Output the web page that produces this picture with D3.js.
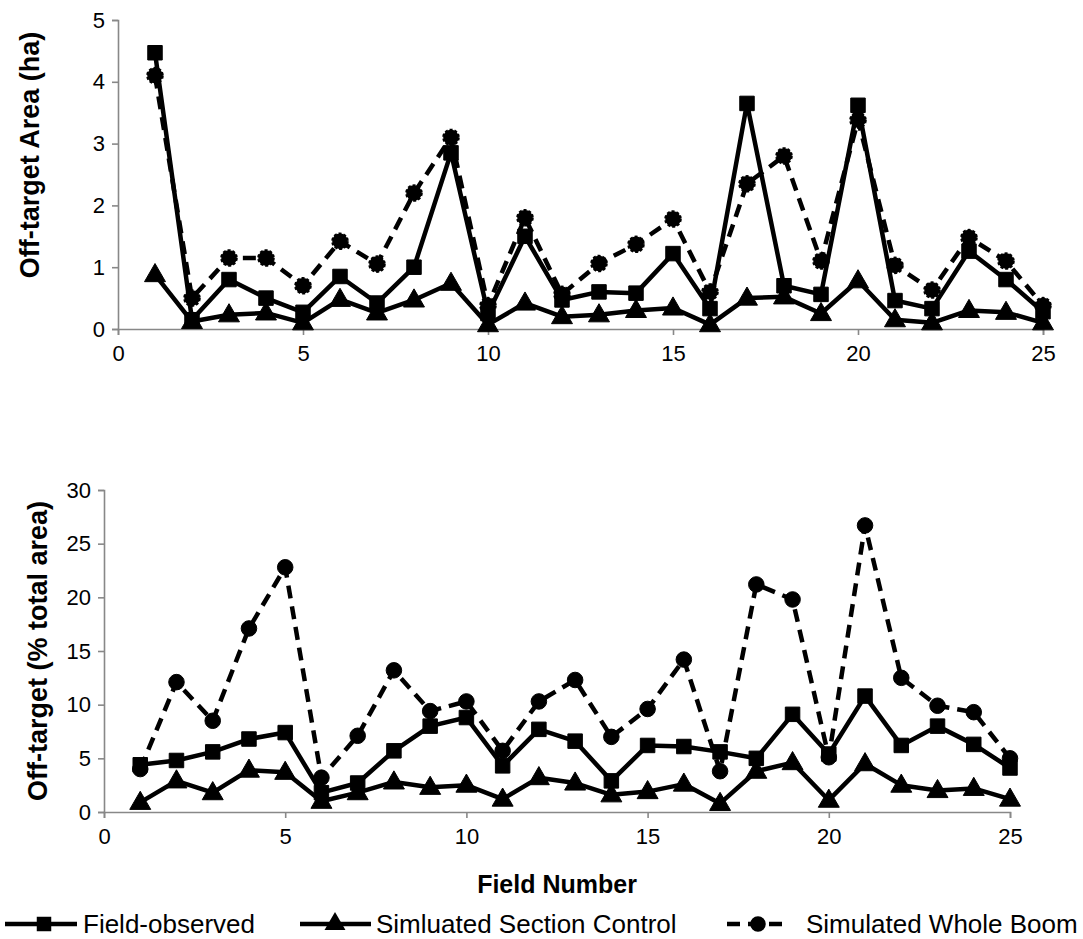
<!DOCTYPE html>
<html>
<head>
<meta charset="utf-8">
<script src="https://cdn.jsdelivr.net/npm/d3@7"></script>
<style>
  html, body { margin: 0; padding: 0; background: #fff; }
  svg { display: block; font-family: "Liberation Sans", Arial, sans-serif; }
</style>
</head>
<body>
<svg id="chart" width="1083" height="939"></svg>
<script>
// ---- Data ----
const fields = d3.range(1, 26);

// Top panel: off-target area (ha)
const areaObserved = [4.47, 0.15, 0.8, 0.5, 0.27, 0.85, 0.42, 1.0, 2.85, 0.25, 1.5, 0.47, 0.6, 0.58, 1.22, 0.33, 3.65, 0.7, 0.56, 3.62, 0.46, 0.33, 1.26, 0.8, 0.28];
const areaSection  = [0.88, 0.12, 0.23, 0.26, 0.1, 0.48, 0.26, 0.47, 0.74, 0.07, 0.42, 0.2, 0.23, 0.3, 0.34, 0.07, 0.5, 0.52, 0.25, 0.78, 0.15, 0.1, 0.3, 0.27, 0.1];
const areaWhole    = [4.1, 0.5, 1.15, 1.15, 0.7, 1.42, 1.05, 2.2, 3.1, 0.38, 1.8, 0.56, 1.06, 1.37, 1.78, 0.6, 2.35, 2.8, 1.1, 3.38, 1.03, 0.63, 1.48, 1.1, 0.38];

// Bottom panel: off-target (% total area)
const pctObserved = [4.4, 4.8, 5.6, 6.8, 7.4, 1.8, 2.7, 5.7, 8.0, 8.8, 4.3, 7.7, 6.6, 2.9, 6.2, 6.1, 5.6, 5.0, 9.1, 5.4, 10.8, 6.2, 8.0, 6.3, 4.1];
const pctSection  = [0.9, 2.9, 1.8, 3.9, 3.7, 1.0, 1.8, 2.8, 2.3, 2.5, 1.2, 3.2, 2.7, 1.6, 1.9, 2.6, 0.8, 3.8, 4.6, 1.1, 4.5, 2.5, 2.0, 2.2, 1.2];
const pctWhole    = [4.0, 12.1, 8.5, 17.1, 22.8, 3.2, 7.1, 13.2, 9.4, 10.3, 5.7, 10.3, 12.3, 7.0, 9.6, 14.2, 3.8, 21.2, 19.8, 5.1, 26.7, 12.5, 9.9, 9.3, 5.0];

const xTicks = [0, 5, 10, 15, 20, 25];
const yTicksTop = [0, 1, 2, 3, 4, 5];
const yTicksBottom = [0, 5, 10, 15, 20, 25, 30];

const seriesNames = ["Field-observed", "Simluated Section Control", "Simulated Whole Boom"];

// ---- Drawing ----
const svg = d3.select("#chart");
const axisColor = "#888888";

function drawPanel(cfg) {
  const x = d3.scaleLinear().domain([0, 25]).range([cfg.left, cfg.right]);
  const y = d3.scaleLinear().domain([0, cfg.ymax]).range([cfg.bottom, cfg.top]);
  const g = svg.append("g");

  const yAxis = g.append("g")
    .attr("transform", `translate(${cfg.left},0)`)
    .call(d3.axisLeft(y).tickValues(cfg.yTicks).tickFormat(d3.format("d"))
      .tickSizeOuter(0).tickSize(6).tickPadding(7));
  const xAxis = g.append("g")
    .attr("transform", `translate(0,${cfg.bottom})`)
    .call(d3.axisBottom(x).tickValues(xTicks).tickFormat(d3.format("d"))
      .tickSizeOuter(0).tickSize(6).tickPadding(10));
  [yAxis, xAxis].forEach(a => {
    a.select(".domain").attr("stroke", axisColor).attr("stroke-width", 1.6);
    a.selectAll(".tick line").attr("stroke", axisColor).attr("stroke-width", 1.6);
    a.selectAll(".tick text").attr("fill", "#000").style("font-size", "22px")
      .style("font-family", '"Liberation Sans", Arial, sans-serif');
  });

  g.append("text")
    .attr("transform", `translate(${cfg.titleX},${cfg.titleY}) rotate(-90)`)
    .attr("text-anchor", "middle")
    .attr("dominant-baseline", "central")
    .style("font-size", "27px").style("font-weight", "bold")
    .text(cfg.title);

  const line = d3.line().x((d, i) => x(fields[i])).y(d => y(d));
  const series = [
    {vals: cfg.data[0], dash: null, marker: "square"},
    {vals: cfg.data[1], dash: null, marker: "triangle"},
    {vals: cfg.data[2], dash: "13,8", marker: "circle"}
  ];
  series.forEach(s => {
    g.append("path").datum(s.vals)
      .attr("d", line)
      .attr("fill", "none").attr("stroke", "#000")
      .attr("stroke-width", 4.5)
      .attr("stroke-linejoin", "round")
      .attr("stroke-dasharray", s.dash);
    const sym = s.marker === "square" ? d3.symbolSquare : s.marker === "triangle" ? d3.symbolTriangle : d3.symbolCircle;
    const size = s.marker === "square" ? 210 : 190;
    g.selectAll(null).data(s.vals).enter().append("path")
      .attr("d", d3.symbol().type(sym).size(size))
      .attr("transform", (d, i) => `translate(${x(fields[i])},${y(d) + (s.marker === "triangle" ? 1 : 0)})`)
      .attr("fill", "#000")
      .attr("stroke", "#000")
      .attr("stroke-width", s.marker === "circle" && cfg.dashedMarkers ? 2 : 1)
      .attr("stroke-dasharray", s.marker === "circle" && cfg.dashedMarkers ? "3,2" : null);
  });
}

drawPanel({
  left: 118, right: 1043, top: 20, bottom: 329, ymax: 5,
  yTicks: yTicksTop, title: "Off-target Area (ha)", titleX: 30, titleY: 155,
  data: [areaObserved, areaSection, areaWhole], dashedMarkers: true
});

drawPanel({
  left: 104, right: 1010, top: 490, bottom: 812, ymax: 30,
  yTicks: yTicksBottom, title: "Off-target (% total area)", titleX: 38, titleY: 651,
  data: [pctObserved, pctSection, pctWhole], dashedMarkers: false
});

svg.append("text")
  .attr("x", 557).attr("y", 884)
  .attr("text-anchor", "middle").attr("dominant-baseline", "central")
  .style("font-size", "25px").style("font-weight", "bold")
  .text("Field Number");

// Legend
const legendY = 924;
const legendItems = [
  {name: seriesNames[0], x1: 5, x2: 77, mx: 44, marker: d3.symbolSquare, size: 210, dash: null, tx: 83},
  {name: seriesNames[1], x1: 300, x2: 371, mx: 335, marker: d3.symbolTriangle, size: 190, dash: null, tx: 376},
  {name: seriesNames[2], x1: 727, x2: 790, mx: 758, marker: d3.symbolCircle, size: 190, dash: "13,8", tx: 806}
];
const lg = svg.append("g");
legendItems.forEach(it => {
  lg.append("line").attr("x1", it.x1).attr("x2", it.x2).attr("y1", legendY).attr("y2", legendY)
    .attr("stroke", "#000").attr("stroke-width", 4.5).attr("stroke-dasharray", it.dash);
  lg.append("path").attr("d", d3.symbol().type(it.marker).size(it.size))
    .attr("transform", `translate(${it.mx},${legendY})`).attr("fill", "#000");
  lg.append("text").attr("x", it.tx).attr("y", legendY)
    .attr("dominant-baseline", "central")
    .style("font-size", "26px")
    .text(it.name);
});
</script>
</body>
</html>
